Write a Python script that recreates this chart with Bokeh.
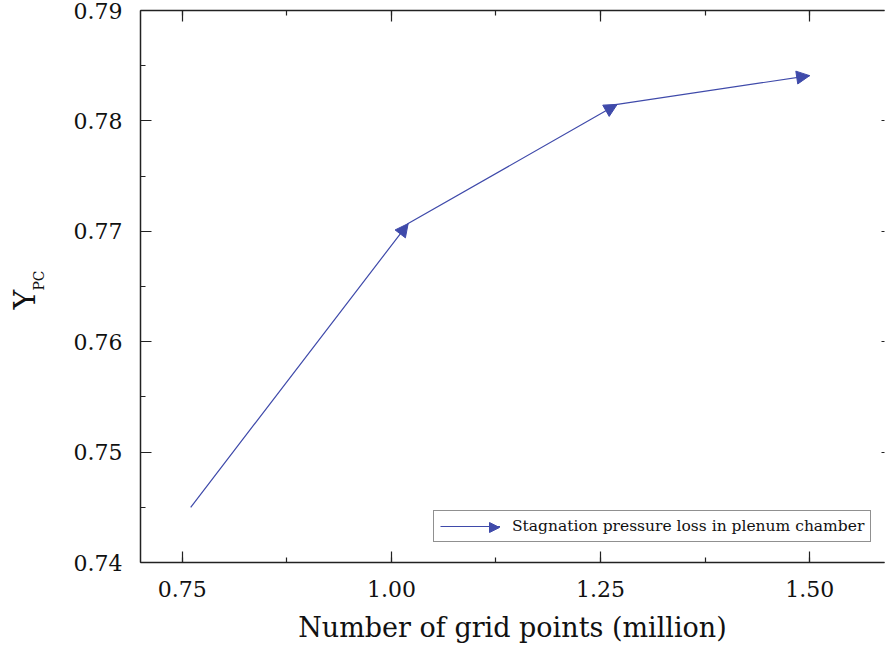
import math

from bokeh.plotting import figure
from bokeh.layouts import row
from bokeh.models import (ColumnDataSource, Arrow, NormalHead, LinearAxis,
                          SingleIntervalTicker, NumeralTickFormatter, Range1d,
                          Legend, LegendItem, Label, CustomJSTickFormatter)
from bokeh.embed import file_html
from bokeh.resources import INLINE

# Grid-independence study: Y_PC against mesh size
grid_points = [0.76, 1.02, 1.27, 1.50]          # million nodes
y_pc = [0.7450, 0.7707, 0.7815, 0.7841]
series_label = "Stagnation pressure loss in plenum chamber"
x_title = "Number of grid points (million)"
y_title, y_title_sub = "Y", "PC"
x_tick_step = 0.25
y_tick_step = 0.01

BLUE = "#3F4AAA"
AXIS = "#222222"
TEXT = "#111111"
FONT = "DejaVu Serif"

H = 658
TITLE_W = 50                       # strip that carries the rotated y title
W = 885 - TITLE_W
BORDER_L, BORDER_R, BORDER_T, BORDER_B = 90, 1, 10, 96
X_LO, X_HI = 0.70, 1.5895
Y_LO, Y_HI = 0.74, 0.79

p = figure(width=W, height=H, output_backend="svg", toolbar_location=None,
           x_range=Range1d(X_LO, X_HI), y_range=Range1d(Y_LO, Y_HI),
           x_axis_type=None, y_axis_type=None,
           min_border_left=BORDER_L, min_border_right=BORDER_R,
           min_border_top=BORDER_T, min_border_bottom=BORDER_B)
p.outline_line_color = None
p.background_fill_color = "white"
p.border_fill_color = "white"

frame_w = W - BORDER_L - BORDER_R
frame_h = H - BORDER_T - BORDER_B


def at_px(dx, dy):
    """Data position of a point dx px right of / dy px above the frame's bottom-left."""
    return (X_LO + dx * (X_HI - X_LO) / frame_w,
            Y_LO + dy * (Y_HI - Y_LO) / frame_h)


def axis(step, labels=True, major_in=11, minor_in=5):
    fmt = NumeralTickFormatter(format="0.00") if labels else CustomJSTickFormatter(code="return ''")
    ax = LinearAxis(ticker=SingleIntervalTicker(interval=step, num_minor_ticks=2),
                    formatter=fmt)
    ax.axis_line_color = AXIS
    ax.axis_line_width = 1.5
    ax.major_tick_line_color = AXIS
    ax.minor_tick_line_color = AXIS
    ax.major_tick_line_width = 1.2
    ax.minor_tick_line_width = 1.2
    ax.major_tick_in = major_in
    ax.major_tick_out = 0
    ax.minor_tick_in = minor_in
    ax.minor_tick_out = 0
    ax.major_label_text_font = FONT
    ax.major_label_text_color = TEXT
    ax.major_label_text_font_size = "22px"
    ax.major_label_standoff = 18 if labels else 0
    return ax


x_axis = axis(x_tick_step)
x_axis.axis_label = x_title
x_axis.axis_label_text_font = FONT
x_axis.axis_label_text_font_size = "27px"
x_axis.axis_label_text_font_style = "normal"
x_axis.axis_label_text_color = TEXT
x_axis.axis_label_standoff = 12
p.add_layout(x_axis, "below")

y_axis = axis(y_tick_step)
p.add_layout(y_axis, "left")

top_axis = axis(x_tick_step, labels=False)
p.add_layout(top_axis, "above")

right_axis = axis(y_tick_step, labels=False, major_in=3, minor_in=0)
right_axis.axis_line_color = None
p.add_layout(right_axis, "right")

# polyline through the points, with an arrowhead at the end of each segment
line_r = p.line(grid_points, y_pc, line_color=BLUE, line_width=1.2)

seg = ColumnDataSource(dict(x0=grid_points[:-1], y0=y_pc[:-1],
                            x1=grid_points[1:], y1=y_pc[1:]))
p.add_layout(Arrow(source=seg, x_start="x0", y_start="y0", x_end="x1", y_end="y1",
                   line_alpha=0,
                   end=NormalHead(size=13, fill_color=BLUE, line_color=BLUE,
                                  line_width=1)))

# arrowhead at the end of the legend sample line (shows through the legend)
kx0, ky = at_px(299, 35)
kx1, _ = at_px(359, 35)
key = ColumnDataSource(dict(x0=[kx0], y0=[ky], x1=[kx1], y1=[ky]))
p.add_layout(Arrow(source=key, x_start="x0", y_start="y0", x_end="x1", y_end="y1",
                   line_alpha=0,
                   end=NormalHead(size=10, fill_color=BLUE, line_color=BLUE,
                                  line_width=1)))

legend = Legend(items=[LegendItem(label=series_label, renderers=[line_r])],
                location=(293, 20), orientation="vertical",
                padding=6, margin=0, spacing=0,
                glyph_width=60, glyph_height=14, label_standoff=12,
                label_text_font=FONT, label_text_font_size="15.5px",
                label_text_color=TEXT, label_height=14,
                border_line_color="#222222", border_line_width=1,
                background_fill_alpha=0)
p.add_layout(legend)

# narrow strip left of the plot holding the y title: Y with subscript PC
# (its frame lines up with the main frame, so y is measured from that frame's bottom)
strip = figure(width=TITLE_W, height=H, output_backend="svg", toolbar_location=None,
               x_range=Range1d(0, 1), y_range=Range1d(0, 1),
               x_axis_type=None, y_axis_type=None, min_border=0)
strip.outline_line_color = None
strip.background_fill_color = "white"
strip.border_fill_color = "white"
strip.add_layout(Label(x=24, y=263, x_units="screen", y_units="screen",
                       text=y_title, angle=math.pi / 2,
                       text_align="center", text_baseline="alphabetic",
                       text_font=FONT, text_font_size="30px", text_color=TEXT))
strip.add_layout(Label(x=38, y=282, x_units="screen", y_units="screen",
                       text=y_title_sub, angle=math.pi / 2,
                       text_align="center", text_baseline="alphabetic",
                       text_font=FONT, text_font_size="14px", text_color=TEXT))

open("out.html", "w").write(file_html(row(strip, p, spacing=0), INLINE))
